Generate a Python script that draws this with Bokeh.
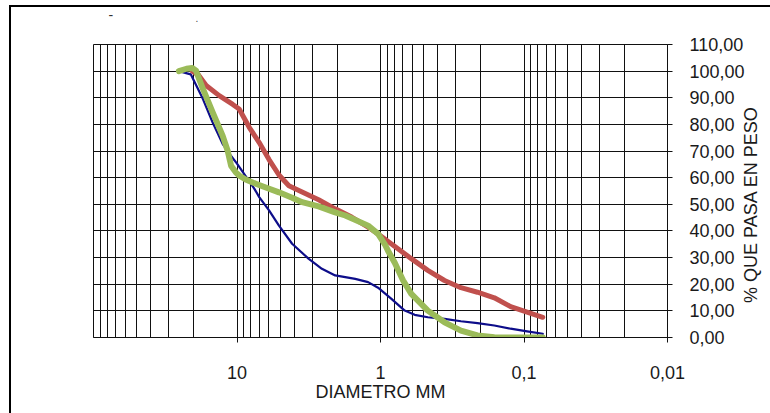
from bokeh.plotting import figure
from bokeh.models import Range1d, FixedTicker
from bokeh.layouts import row, column
from bokeh.core.properties import value
from bokeh.embed import file_html
from bokeh.resources import INLINE
import math

# ---- data ----
x_major = [10, 1, 0.1, 0.01]
x_major_labels = ["10", "1", "0,1", "0,01"]
x_minor = [100, 90, 80, 70, 60, 50, 40, 30, 20,
           9, 8, 7, 6, 5, 4, 3, 2,
           0.9, 0.8, 0.7, 0.6, 0.5, 0.4, 0.3, 0.2,
           0.09, 0.08, 0.07, 0.06, 0.05, 0.04, 0.03, 0.02]
y_ticks = [0, 10, 20, 30, 40, 50, 60, 70, 80, 90, 100, 110]
y_tick_labels = ["0,00", "10,00", "20,00", "30,00", "40,00", "50,00",
                 "60,00", "70,00", "80,00", "90,00", "100,00", "110,00"]

blue_mm = [25.4, 21.0, 17.3, 14.8, 12.6, 11.3, 10.0, 8.8, 7.6, 7.0, 5.98, 5.10,
           4.13, 3.16, 2.56, 2.07, 1.50, 1.22, 1.04, 0.839, 0.678, 0.578, 0.468,
           0.358, 0.275, 0.211, 0.161, 0.124, 0.0951, 0.074]
blue_pct = [100, 98.8, 89.6, 80.8, 72.7, 69.0, 65.3, 61.0, 56.0, 52.7, 47.7, 42.0,
            35.2, 29.5, 25.8, 23.3, 22.0, 20.8, 18.7, 14.5, 10.1, 8.5, 7.6,
            7.0, 6.1, 5.4, 4.5, 3.3, 2.3, 1.4]

red_mm = [20.5, 18.5, 16.4, 13.3, 10.7, 9.66, 8.24, 7.02, 5.98, 5.10, 4.35, 3.52,
          2.70, 2.07, 1.59, 1.22, 1.04, 0.794, 0.61, 0.468, 0.358, 0.275, 0.211,
          0.161, 0.124, 0.0951, 0.074]
red_pct = [100, 98.5, 94.6, 90.8, 87.5, 85.8, 79.0, 73.3, 66.8, 61.0, 57.0, 54.6,
           51.7, 48.3, 45.2, 41.4, 38.9, 34.2, 29.6, 25.2, 21.4, 18.7, 17.0,
           14.9, 11.6, 9.5, 7.6]

green_mm = [25.4, 22.5, 20.5, 19.3, 17.3, 14.8, 12.6, 11.6, 11.0, 10.2, 9.66, 8.7,
            7.4, 6.3, 5.1, 4.13, 3.52, 2.7, 2.07, 1.76, 1.22, 1.04, 0.933, 0.885,
            0.794, 0.697, 0.61, 0.468, 0.358, 0.275, 0.211, 0.161, 0.12, 0.074]
green_pct = [100, 100.9, 101.2, 100.2, 93.4, 84.6, 75.8, 70.0, 64.5, 62.0, 60.8, 59.3,
             57.7, 56.3, 54.5, 52.5, 50.8, 49.2, 47.0, 45.8, 42.0, 38.9, 35.0, 32.5,
             28.0, 21.5, 16.4, 10.1, 5.7, 2.6, 0.8, 0.1, 0.0, 0.0]

y_title = "% QUE PASA EN PESO"
x_title = "DIAMETRO MM"
top_dash = "-"
top_dot = "."

FONT = "Liberation Sans"
OX, OY = 11, 7          # page position of the layout origin (CSS margin + border)
WT = 770 - OX           # full layout width
T = 20                  # height of the top strip
W1 = 747 - OX           # main figure width (ends right after the tick labels)
H = 413 - OY - T
W2 = 35                 # strip carrying the rotated y title
OVER = 12               # overlap of that strip onto the main figure
Y0 = OY + T             # page y of the main figure's top


def pixel_strip(w, h, **kw):
    f = figure(width=w, height=h, x_range=Range1d(0, w), y_range=Range1d(h, 0),
               output_backend="svg", toolbar_location=None,
               x_axis_location=None, y_axis_location=None, min_border=0, **kw)
    f.grid.visible = False
    f.outline_line_color = None
    f.background_fill_color = None
    f.border_fill_color = None
    return f


# top strip with the small marks (remnants of a title)
top = pixel_strip(WT, T)
top.text(x=[108 - OX], y=[14 - OY], text=[top_dash],
         text_align="left", text_baseline="middle",
         text_font=value(FONT), text_font_size="14px", text_color="#333333")
top.text(x=[195 - OX], y=[17 - OY], text=[top_dot],
         text_align="left", text_baseline="alphabetic",
         text_font=value(FONT), text_font_size="10px", text_color="#444444")

p = figure(width=W1, height=H, x_axis_type="log",
           x_range=Range1d(100, 0.01), y_range=Range1d(0, 110),
           y_axis_location="right",
           output_backend="svg", toolbar_location=None,
           min_border_left=93 - OX, min_border_right=W1 - (670 - OX),
           min_border_top=44 - Y0, min_border_bottom=H - (337 - Y0))

p.background_fill_color = "white"
p.border_fill_color = "white"
p.outline_line_color = "#111111"
p.outline_line_width = 1

# x axis
p.xaxis.ticker = FixedTicker(ticks=x_major, minor_ticks=x_minor)
p.xaxis.major_label_overrides = {k: v for k, v in zip(x_major, x_major_labels)}
p.xaxis.axis_label = x_title
p.xaxis.minor_tick_line_color = None
p.xaxis.major_tick_out = 5
p.xaxis.major_tick_in = 0
p.xaxis.major_label_standoff = 23
p.xaxis.axis_label_standoff = 0

# y axis (right)
p.yaxis.ticker = FixedTicker(ticks=y_ticks)
p.yaxis.major_label_overrides = {k: v for k, v in zip(y_ticks, y_tick_labels)}
p.yaxis.minor_tick_line_color = None
p.yaxis.major_tick_out = 5
p.yaxis.major_tick_in = 0
p.yaxis.major_label_standoff = 17

for ax in (p.xaxis, p.yaxis):
    ax.axis_line_color = "#111111"
    ax.major_tick_line_color = "#111111"
    ax.major_label_text_font = FONT
    ax.major_label_text_font_size = "18px"
    ax.major_label_text_color = "#1a1a1a"
    ax.axis_label_text_font = FONT
    ax.axis_label_text_font_size = "18px"
    ax.axis_label_text_font_style = "normal"
    ax.axis_label_text_color = "#1a1a1a"

# grids
p.xgrid.ticker = p.xaxis[0].ticker
p.xgrid.grid_line_color = "#111111"
p.xgrid.minor_grid_line_color = "#111111"
p.ygrid.ticker = p.yaxis[0].ticker
p.ygrid.grid_line_color = "#111111"

# series
p.line(blue_mm, blue_pct, line_color="#0d0d8a", line_width=2.2,
       line_join="round", line_cap="round")
p.line(red_mm, red_pct, line_color="#c0504d", line_width=5,
       line_join="round", line_cap="round")
p.line(green_mm, green_pct, line_color="#9bbb59", line_width=6,
       line_join="round", line_cap="round")

# transparent strip, overlapping the main figure, holding the y title
p2 = pixel_strip(W2, H, margin=(0, 0, 0, -OVER))
p2.text(x=[750 - OX - (W1 - OVER)], y=[238 - Y0], text=[y_title],
        angle=math.pi / 2, text_align="center", text_baseline="middle",
        text_font=value(FONT), text_font_size="18px", text_color="#1a1a1a")

layout = column(top, row(p, p2),
                styles={"margin-left": "9px", "margin-top": "5px",
                        "border-left": "2px solid #000000",
                        "border-top": "2px solid #000000"})

open("out.html", "w").write(file_html(layout, INLINE))
